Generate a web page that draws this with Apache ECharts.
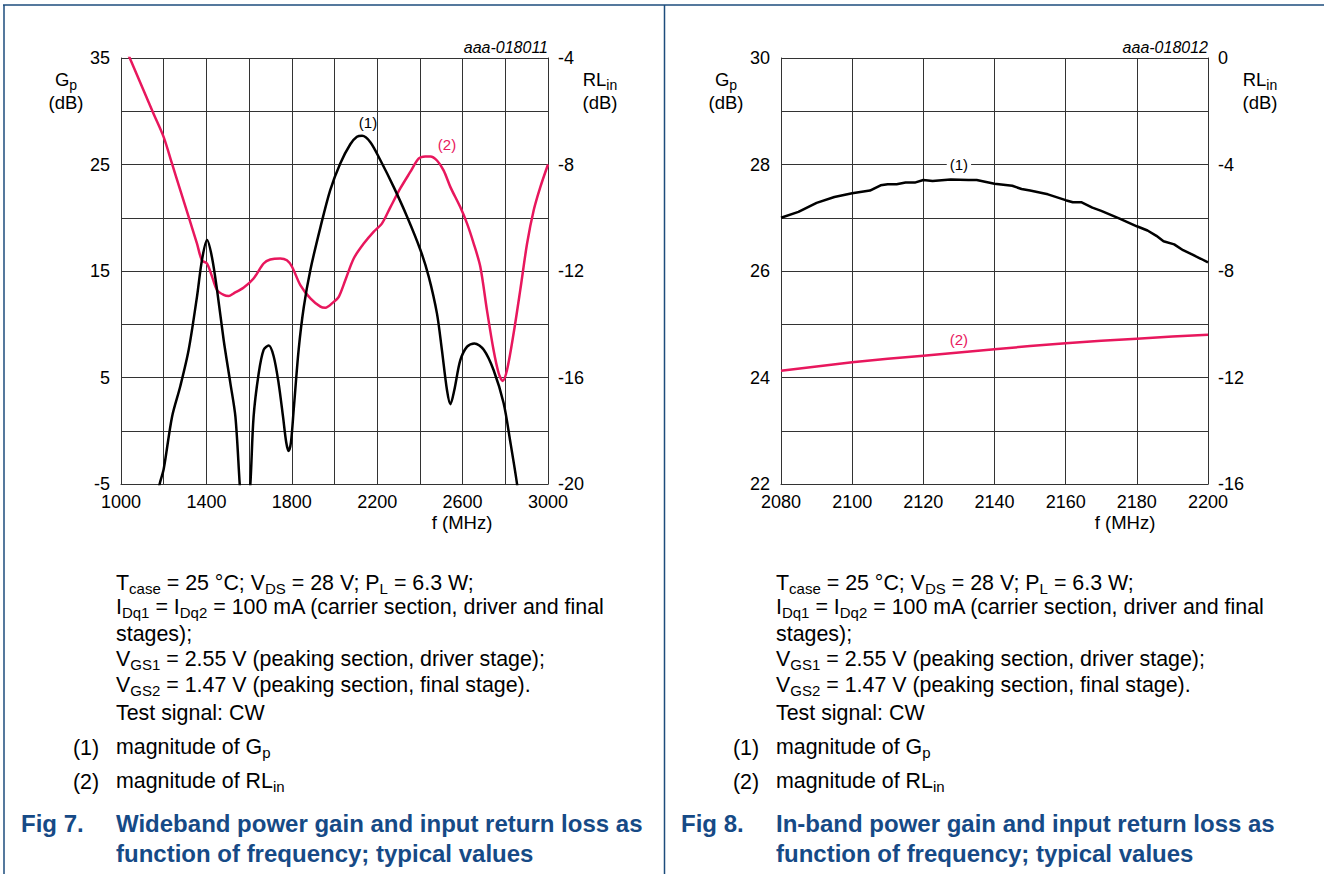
<!DOCTYPE html>
<html>
<head>
<meta charset="utf-8">
<script src="https://cdn.jsdelivr.net/npm/echarts@6/dist/echarts.min.js"></script>
<style>
html,body{margin:0;padding:0;background:#ffffff;}
#c{width:1324px;height:874px;}
</style>
</head>
<body>
<div id="c"></div>
<script>
// ---------- Fig 7 : wideband (1000 - 3000 MHz) ----------
const fig7GpFreq = [1150,1181,1200,1239,1278,1317,1356,1379,1403,1426,1450,1481,1512,1536,1556,1580,1606,1621,1645,1668,1692,1715,1738,1759,1774,1785,1796,1809,1832,1856,1887,1934,1980,2027,2074,2105,2129,2168,2215,2277,2340,2402,2441,2480,2503,2527,2543,2561,2589,2621,2655,2699,2745,2792,2824,2855,2880];
const fig7GpVal  = [-8,-5,-3.6,1.3,4.2,7.6,12.6,16,17.9,16.3,13.2,8.5,4.5,1.3,-5,-12,-5,1.3,5.4,7.6,8.0,7.0,4.5,1.3,-1.1,-1.9,-1.1,2.0,7.6,11.6,15.1,19.1,22.6,25.1,26.9,27.6,27.7,27.1,25.4,22.9,20.1,17,14.5,11.0,7.6,3.8,2.5,3.8,6.6,7.9,8.2,7.6,5.7,2.6,-1.1,-5,-9];
const fig7RlFreq = [1000,1041,1106,1153,1200,1239,1278,1317,1356,1379,1403,1426,1450,1481,1504,1528,1575,1621,1668,1699,1746,1777,1801,1840,1887,1934,1957,1996,2020,2051,2090,2137,2183,2222,2262,2308,2355,2394,2425,2449,2480,2511,2543,2589,2621,2652,2683,2714,2745,2769,2788,2808,2839,2870,2902,2933,2964,3000];
const fig7RlVal  = [-3.23,-4,-5.22,-6.1,-6.97,-7.97,-8.97,-9.97,-10.97,-11.6,-11.72,-12.2,-12.72,-12.9,-12.94,-12.84,-12.62,-12.28,-11.72,-11.57,-11.53,-11.6,-11.84,-12.53,-13.03,-13.34,-13.38,-13.16,-12.97,-12.34,-11.53,-10.97,-10.53,-10.22,-9.6,-8.9,-8.28,-7.78,-7.7,-7.7,-7.85,-8.22,-8.85,-9.6,-10.22,-10.97,-11.84,-13.47,-14.97,-15.84,-16.13,-15.72,-14.34,-12.72,-10.97,-9.72,-8.85,-8.0];

// ---------- Fig 8 : in-band (2080 - 2200 MHz) ----------
const fig8GpFreq = [2080,2084.9,2090,2095,2100,2105,2108,2110,2112.5,2115,2117.6,2120,2122.6,2127.7,2132.7,2135,2140,2145,2147.6,2150,2155,2160,2162,2164.5,2167.5,2170,2175,2180,2183,2185.5,2187.5,2190.5,2193,2195.5,2198,2200];
const fig8GpVal  = [27.0,27.11,27.28,27.39,27.46,27.51,27.61,27.63,27.63,27.66,27.66,27.71,27.69,27.72,27.71,27.71,27.64,27.6,27.54,27.51,27.44,27.33,27.29,27.29,27.19,27.13,26.99,26.84,26.76,26.66,26.56,26.5,26.39,26.31,26.23,26.16];
const fig8RlFreq = [2080,2090,2100,2110,2120,2130,2140,2150,2160,2170,2180,2190,2200];
const fig8RlVal  = [-11.75,-11.59,-11.43,-11.3,-11.18,-11.06,-10.94,-10.82,-10.71,-10.62,-10.54,-10.46,-10.39];

// ---------- curve annotations (data coordinates) ----------
const fig7Note1 = [2157, 28.9];   // (1) on Gp axis
const fig7Note2 = [2527, -7.26];  // (2) on RLin axis
const fig8Note1 = [2130, 28.0];
const fig8Note2 = [2130, -10.56];

// ---------- texts ----------
const figTags = ['aaa-018011', 'aaa-018012'];
const captionLines = [
  '{n|T}{s|case}{n| = 25 °C; V}{s|DS}{n| = 28 V; P}{s|L}{n| = 6.3 W;}',
  '{n|I}{s|Dq1}{n| = I}{s|Dq2}{n| = 100 mA (carrier section, driver and final}',
  '{n|stages);}',
  '{n|V}{s|GS1}{n| = 2.55 V (peaking section, driver stage);}',
  '{n|V}{s|GS2}{n| = 1.47 V (peaking section, final stage).}',
  '{n|Test signal: CW}'
];
const legendNums = ['(1)', '(2)'];
const legendTexts = ['{n|magnitude of G}{s|p}', '{n|magnitude of RL}{s|in}'];
const figNums = ['Fig 7.', 'Fig 8.'];
const figTitles = [
  ['Wideband power gain and input return loss as', 'function of frequency; typical values'],
  ['In-band power gain and input return loss as', 'function of frequency; typical values']
];

const FONT = "'Liberation Sans', Arial, Helvetica, sans-serif";
const RED = '#e8175d';
const GRID = '#333333';
const BLUE = '#164a86';
const FRAME = '#1d4d7c';

const zip = (xs, ys) => xs.map((x, i) => [x, ys[i]]);

const chart = echarts.init(document.getElementById('c'), null, {renderer: 'svg'});

function xAxisCfg(gi, min, max, interval, step) {
  return {
    type: 'value', gridIndex: gi, min: min, max: max, interval: interval,
    axisLine: {show: true, onZero: false, lineStyle: {color: GRID, width: 1}},
    axisTick: {show: false},
    splitLine: {show: true, lineStyle: {color: GRID, width: 1}},
    axisLabel: {
      color: '#000', fontSize: 18, fontFamily: FONT, margin: 9,
      showMinLabel: true, showMaxLabel: true,
      formatter: v => (Math.round(v - min) % step === 0 ? String(v) : '')
    }
  };
}
function yAxisCfg(gi, pos, min, max, interval, step, grid) {
  return {
    type: 'value', gridIndex: gi, position: pos, min: min, max: max, interval: interval,
    axisLine: {show: true, onZero: false, lineStyle: {color: GRID, width: 1}},
    axisTick: {show: false},
    splitLine: {show: grid, lineStyle: {color: GRID, width: 1}},
    axisLabel: {
      color: '#000', fontSize: 18, fontFamily: FONT, margin: pos === 'left' ? 11 : 10,
      showMinLabel: true, showMaxLabel: true,
      formatter: v => (Math.round(v - min) % step === 0 ? String(v) : '')
    }
  };
}
function note(coord, text, color, bg) {
  return {
    symbol: 'circle', symbolSize: 0, silent: true,
    label: {show: true, position: 'inside', formatter: text, color: color, fontSize: 15, fontFamily: FONT,
            backgroundColor: bg ? '#ffffff' : 'transparent', padding: bg ? [0, 3] : 0},
    data: [{coord: coord}]
  };
}

const RICH = {
  n: {fontSize: 21.4, fontFamily: FONT, fill: '#000', verticalAlign: 'top', padding: [0, 0, 0, 0]},
  s: {fontSize: 15, fontFamily: FONT, fill: '#000', verticalAlign: 'top', padding: [8, 0, 0, 0]},
  an: {fontSize: 18.5, fontFamily: FONT, fill: '#000', verticalAlign: 'top', padding: [0, 0, 0, 0]},
  as: {fontSize: 14, fontFamily: FONT, fill: '#000', verticalAlign: 'top', padding: [8, 0, 0, 0]},
  b: {fontSize: 24, fontFamily: FONT, fontWeight: 'bold', fill: BLUE, verticalAlign: 'top', padding: [0, 0, 0, 0]}
};
function txt(x, y, text, align) {
  return {
    type: 'text', x: x, y: y, silent: true,
    style: {text: text, rich: RICH, fill: '#000', align: align || 'left', verticalAlign: 'middle',
            textAlign: align || 'left', textVerticalAlign: 'middle'}
  };
}

const graphics = [];
// frame
graphics.push({type: 'line', silent: true, shape: {x1: 3, y1: 5, x2: 1324, y2: 5}, style: {stroke: FRAME, lineWidth: 1.5}});
graphics.push({type: 'line', silent: true, shape: {x1: 4, y1: 5, x2: 4, y2: 874}, style: {stroke: FRAME, lineWidth: 1.5}});
graphics.push({type: 'line', silent: true, shape: {x1: 664.5, y1: 5, x2: 664.5, y2: 874}, style: {stroke: FRAME, lineWidth: 1.5}});

const panelDX = [0, 660];
const plotL = [121, 781];
const plotR = [548, 1208];
panelDX.forEach((dx, k) => {
  // tag
  graphics.push({type: 'text', x: plotR[k], y: 47, silent: true,
    style: {text: figTags[k], font: 'italic 16px ' + FONT, fill: '#000', align: 'right', verticalAlign: 'middle',
            textAlign: 'right', textVerticalAlign: 'middle'}});
  // axis names
  graphics.push(txt(plotL[k] - 55, 81, '{an|G}{as|p}', 'center'));
  graphics.push(txt(plotL[k] - 55, 102, '{an|(dB)}', 'center'));
  graphics.push(txt(plotR[k] + 52, 81, '{an|RL}{as|in}', 'center'));
  graphics.push(txt(plotR[k] + 52, 102, '{an|(dB)}', 'center'));
  // f (MHz)
  graphics.push(txt(k === 0 ? 462 : 1125, 522, '{an|f (MHz)}', 'center'));
  // conditions
  const capY = [584, 608, 634, 660, 686, 713];
  captionLines.forEach((line, i) => graphics.push(txt(116 + dx, capY[i], line)));
  const legY = [748, 782];
  legendNums.forEach((num, i) => {
    graphics.push(txt(73 + dx, legY[i], '{n|' + num + '}'));
    graphics.push(txt(116 + dx, legY[i], legendTexts[i]));
  });
  graphics.push(txt(21 + dx, 823, '{b|' + figNums[k] + '}'));
  graphics.push(txt(116 + dx, 823, '{b|' + figTitles[k][0] + '}'));
  graphics.push(txt(116 + dx, 853, '{b|' + figTitles[k][1] + '}'));
});

const option = {
  animation: false,
  backgroundColor: '#ffffff',
  textStyle: {fontFamily: FONT},
  grid: [
    {left: 121, top: 58, width: 427, height: 426},
    {left: 781, top: 58, width: 427, height: 426}
  ],
  xAxis: [
    xAxisCfg(0, 1000, 3000, 200, 400),
    xAxisCfg(1, 2080, 2200, 20, 20)
  ],
  yAxis: [
    yAxisCfg(0, 'left', -5, 35, 5, 10, true),
    yAxisCfg(0, 'right', -20, -4, 4, 4, false),
    yAxisCfg(1, 'left', 22, 30, 1, 2, true),
    yAxisCfg(1, 'right', -16, 0, 4, 4, false)
  ],
  series: [
    {type: 'line', xAxisIndex: 0, yAxisIndex: 0, data: zip(fig7GpFreq, fig7GpVal), smooth: 0.3, clip: true,
     showSymbol: false, symbol: 'none', lineStyle: {color: '#000', width: 2.5}, z: 4,
     markPoint: note(fig7Note1, '(1)', '#000', false)},
    {type: 'line', xAxisIndex: 0, yAxisIndex: 1, data: zip(fig7RlFreq, fig7RlVal), smooth: 0.3, clip: true,
     showSymbol: false, symbol: 'none', lineStyle: {color: RED, width: 2.5}, z: 3,
     markPoint: note(fig7Note2, '(2)', RED, false)},
    {type: 'line', xAxisIndex: 1, yAxisIndex: 2, data: zip(fig8GpFreq, fig8GpVal), smooth: false, clip: true,
     showSymbol: false, symbol: 'none', lineStyle: {color: '#000', width: 2.5}, z: 4,
     markPoint: note(fig8Note1, '(1)', '#000', true)},
    {type: 'line', xAxisIndex: 1, yAxisIndex: 3, data: zip(fig8RlFreq, fig8RlVal), smooth: false, clip: true,
     showSymbol: false, symbol: 'none', lineStyle: {color: RED, width: 2.5}, z: 3,
     markPoint: note(fig8Note2, '(2)', RED, false)}
  ],
  graphic: graphics
};
chart.setOption(option);
</script>
</body>
</html>
